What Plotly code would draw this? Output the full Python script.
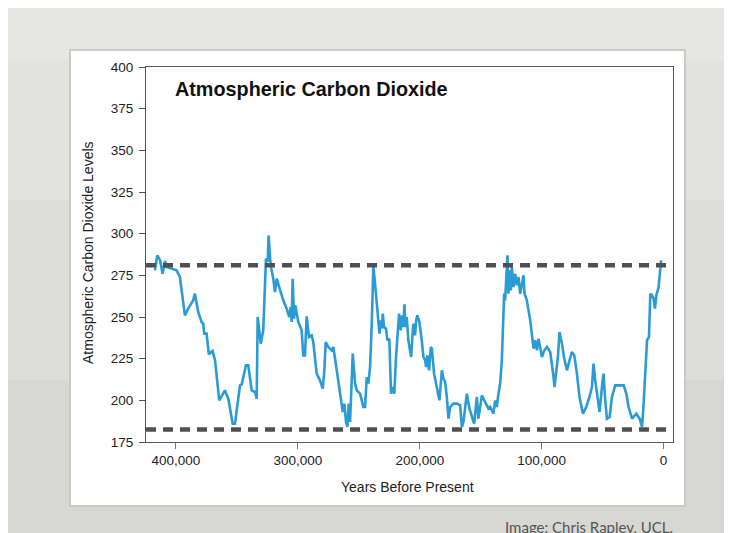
import plotly.graph_objects as go

# ---------------- data ----------------
years_kyr = [
    417.3, 415.4, 413.0, 411.0, 409.0, 407.7, 399.5, 396.8, 392.7, 390.0, 385.9, 384.5,
    381.8, 379.0, 377.7, 376.8, 374.9, 373.0, 370.0, 368.0, 364.5, 359.9, 357.1, 353.5,
    351.6, 347.5, 346.1, 342.6, 340.7, 337.9, 335.2, 333.8, 333.0, 330.5, 328.4, 326.2,
    324.8, 324.0, 322.9, 322.1, 320.2, 318.8, 317.4, 314.7, 312.0, 309.2, 307.1, 305.9,
    305.1, 304.3, 303.2, 302.1, 299.7, 296.9, 295.6, 294.2, 292.8, 290.9, 288.7, 287.4,
    284.6, 281.9, 279.6, 278.3, 277.2, 275.0, 272.3, 270.9,
    268.1, 265.4, 263.2, 261.9, 260.5, 259.4, 258.3, 257.2, 255.8, 255.0, 253.1, 251.7,
    249.0, 246.3, 244.9, 243.5, 242.2, 240.8, 239.4, 238.1, 236.7, 235.3, 234.0, 233.1,
    232.0, 231.2, 230.4, 229.3, 227.7, 226.6, 225.0, 223.6, 222.2, 220.9, 219.5, 218.1,
    217.0, 215.6, 214.5, 213.5, 212.6, 211.8, 210.7, 209.4, 208.0, 207.1, 206.1, 205.3,
    203.9, 203.0, 202.0, 200.3, 198.4, 197.0, 195.6, 194.8, 193.8, 192.4, 191.0, 190.1,
    188.3, 186.0, 183.9, 181.9, 180.6, 179.2, 177.8, 176.5, 175.1, 172.4, 169.6, 166.9,
    165.5, 164.2, 161.4, 159.3, 157.3, 155.4, 153.2, 151.9, 149.1, 146.4, 143.7,
    142.3, 139.6, 138.2, 136.8, 135.5, 134.1, 132.7, 131.9, 130.8, 130.0, 129.1, 128.1,
    127.3, 126.4, 125.3, 124.5, 123.2, 121.8, 120.4, 119.0, 117.7, 116.3, 114.9, 114.1,
    112.2, 109.4, 108.0, 106.7, 105.3, 103.9, 102.6, 101.2, 99.8, 97.9, 95.7, 93.0,
    91.6, 90.3, 89.5, 88.1, 86.7, 85.4, 83.4, 81.5, 79.3, 77.2, 75.2, 73.3,
    71.1, 69.0, 66.2, 63.5, 60.8, 58.8, 57.5, 56.1, 54.2, 52.5, 50.6, 49.3,
    47.9, 46.5, 44.3, 42.4, 39.7, 35.5, 32.8, 30.6, 28.7, 25.9, 22.4, 19.7,
    17.7, 16.4, 15.0, 13.6, 12.0, 10.9, 9.5, 8.2, 7.1, 6.0, 4.1, 3.3, 2.1,
]
co2_ppm = [
    278, 287, 284, 276, 283.6, 280, 278, 274, 251, 255, 260, 264,
    253, 247, 246, 240, 240, 227.6, 229.6, 224, 200, 206, 201, 186,
    186, 209, 209.6, 221, 221, 206, 205, 201, 250, 234, 242, 285,
    283, 299, 286, 280, 273, 265, 273, 266, 260, 255, 250, 256,
    247, 273, 249, 257, 247, 242, 227, 227, 250.4, 238, 239, 235,
    216, 212, 207, 218, 235, 232, 230, 232,
    218, 204, 193, 198, 187, 184, 198, 187, 210, 228, 210, 206,
    204, 196, 196, 214, 210, 220, 246, 280.4, 270, 260, 248, 240,
    248, 243, 252, 244, 243, 236, 237, 204, 208, 204, 226, 242,
    252, 242, 251, 244, 257.6, 244, 250, 236, 230, 226, 238, 246,
    239, 248, 251, 247, 236, 226, 224, 220, 227, 218, 232, 231,
    216, 208, 200, 218, 213, 211, 202, 189, 196, 198, 198, 197,
    184, 187, 204, 195, 190, 186, 202, 189, 203, 199, 195,
    196, 192, 200, 196, 204, 210, 224, 242, 264, 260, 276, 287,
    264, 278, 266, 280, 268, 276, 269, 274, 264, 270, 275, 264,
    260, 248, 238, 231, 236, 230, 237, 230, 226, 230, 232, 229,
    222, 214, 208, 216, 226, 241, 234, 225, 218, 224, 229, 227,
    216, 202, 192, 196, 202, 208, 222, 212, 200, 193, 208, 216,
    200, 189, 190, 202, 209, 209, 209, 204, 196, 189, 192, 189,
    184, 198, 218, 236, 238, 264, 263, 261, 255, 263, 268, 275, 284,
]
assert len(years_kyr) == len(co2_ppm)

threshold_levels = [281, 182.5]          # dashed reference lines
x_tick_values = [400000, 300000, 200000, 100000, 0]
x_tick_labels = ["400,000", "300,000", "200,000", "100,000", "0"]
y_tick_values = [175, 200, 225, 250, 275, 300, 325, 350, 375, 400]

title_text = "Atmospheric Carbon Dioxide"
x_title = "Years Before Present"
y_title = "Atmospheric Carbon Dioxide Levels"
caption = "Image: Chris Rapley, UCL."

# ---------------- layout geometry ----------------
OFF = 8                     # page offset of the figure inside the window
W, H = 724, 525
L, R, T, B = 138, 59, 59, 91
PW, PH = W - L - R, H - T - B


def px(xpix):
    """screen x (window pixels) -> paper x"""
    return (xpix - OFF - L) / PW


def py(ypix):
    """screen y (window pixels) -> paper y"""
    return (H - B - (ypix - OFF)) / PH


fig = go.Figure()

fig.add_trace(go.Scatter(
    x=[v * 1000 for v in years_kyr],
    y=co2_ppm,
    mode="lines",
    line=dict(color="#2b9bd6", width=2.6),
    hoverinfo="skip",
    showlegend=False,
))

shapes = []
# slide background bands (soft gradient)
bands = [(0, 60, "#e6e7e2"), (60, 200, "#e2e3de"),
         (200, 380, "#dddeda"), (380, 545, "#d7d8d3")]
for y0, y1, c in bands:
    shapes.append(dict(type="rect", xref="paper", yref="paper", layer="below",
                       x0=px(0), x1=px(745), y0=py(y1), y1=py(y0),
                       fillcolor=c, line=dict(width=0)))
# white panel with soft border
shapes.append(dict(type="rect", xref="paper", yref="paper", layer="below",
                   x0=px(69), x1=px(686), y0=py(507), y1=py(49),
                   fillcolor="#c9cac6", line=dict(width=0)))
shapes.append(dict(type="rect", xref="paper", yref="paper", layer="below",
                   x0=px(71), x1=px(684), y0=py(505), y1=py(51),
                   fillcolor="#ffffff", line=dict(width=0)))
# dashed threshold lines
for lvl in threshold_levels:
    shapes.append(dict(type="line", xref="paper", yref="y", layer="above",
                       x0=0, x1=px(668), y0=lvl, y1=lvl,
                       line=dict(color="#505050", width=4.5, dash="10px,7px")))

annotations = [
    dict(text=f"<b>{title_text}</b>", xref="paper", yref="paper",
         x=px(173), y=py(89), xanchor="left", yanchor="middle", showarrow=False,
         font=dict(family="Liberation Sans, Arial", size=19.8, color="#111111")),
    dict(text=x_title, xref="paper", yref="paper",
         x=px(407), y=py(487), xanchor="center", yanchor="middle", showarrow=False,
         font=dict(family="Liberation Sans, Arial", size=14, color="#222222")),
    dict(text=y_title, xref="paper", yref="paper", textangle=-90,
         x=px(88), y=py(253), xanchor="center", yanchor="middle", showarrow=False,
         font=dict(family="Liberation Sans, Arial", size=14, color="#222222")),
    dict(text=caption, xref="paper", yref="paper",
         x=px(675), y=py(527), xanchor="right", yanchor="middle", showarrow=False,
         font=dict(family="Lato, Open Sans", size=15, color="#555555")),
]

fig.update_layout(
    width=W, height=H,
    margin=dict(l=L, r=R, t=T, b=B, pad=0),
    paper_bgcolor="#e0e1dc",
    plot_bgcolor="rgba(0,0,0,0)",
    shapes=shapes,
    annotations=annotations,
    showlegend=False,
    font=dict(family="Liberation Sans, Arial", color="#222222"),
)

fig.update_xaxes(
    range=[424600, -7700],
    tickvals=x_tick_values, ticktext=x_tick_labels,
    ticks="outside", ticklen=6, tickcolor="#777777", tickwidth=1,
    showline=True, linecolor="#555555", linewidth=1, mirror=True,
    showgrid=False, zeroline=False,
    tickfont=dict(size=13.5, color="#222222"),
)
fig.update_yaxes(
    range=[175, 400],
    tickvals=y_tick_values,
    ticks="outside", ticklen=6, tickcolor="#555555", tickwidth=1,
    showline=True, linecolor="#555555", linewidth=1, mirror=True,
    showgrid=False, zeroline=False,
    ticklabelstandoff=3,
    tickfont=dict(size=13.5, color="#222222"),
)

fig.write_html("out.html")
